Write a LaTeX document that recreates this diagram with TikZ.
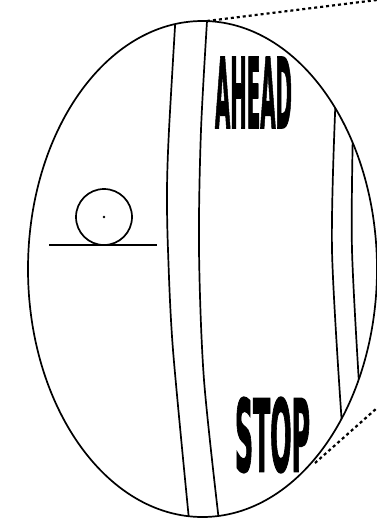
\documentclass[tikz,border=0pt]{standalone}
\usepackage{fontspec}
\usepackage{graphicx}
\newfontfamily\signfont[FakeBold=2]{DejaVu Sans Condensed}

\begin{document}
\begin{tikzpicture}[x=1pt, y=-1pt, line width=1.7pt, every node/.style={inner sep=0pt}]
  \useasboundingbox (0,0) rectangle (377,520);
  \tikzset{sight/.style={line width=2.2pt, dash pattern=on 3pt off 3pt},
           sign/.style={font=\signfont\bfseries}}

  % Lens outline
  \draw (202.5,269) ellipse [x radius=174.5, y radius=248];

  % Road strips, cut by the lens
  \begin{scope}
    \clip (202.5,269) ellipse [x radius=174.5, y radius=248];
    \draw plot[smooth] coordinates {(176,10) (169,130) (167,190) (168,250) (173,350) (190,530)};
    \draw plot[smooth] coordinates {(208,5) (201,130) (199,250) (204,380) (220,530)};
    \draw plot[smooth] coordinates {(336,90) (332,250) (343,440)};
    \draw plot[smooth] coordinates {(353,125) (352,250) (360,400)};
  \end{scope}

  % Road markings
  \node[sign] (ahead) at (253.5,92.5) {\resizebox{77pt}{71pt}{AHEAD}};
  \node[sign] (stop) at (272.5,435) {\resizebox{75pt}{74pt}{STOP}};

  % Wheel on the ground
  \node[circle, draw, minimum size=56pt] (wheel) at (104,217) {};
  \fill (wheel.center) circle (1.4pt);
  \draw (49,245) -- (157,245);

  % Sight lines
  \coordinate (lenstop) at (207,21);
  \coordinate (lensbot) at (315,463);
  \coordinate (far1) at (377,0);
  \coordinate (far2) at (377,408);
  \draw[sight] (lenstop) -- (far1);
  \draw[sight] (lensbot) -- (far2);
\end{tikzpicture}
\end{document}
